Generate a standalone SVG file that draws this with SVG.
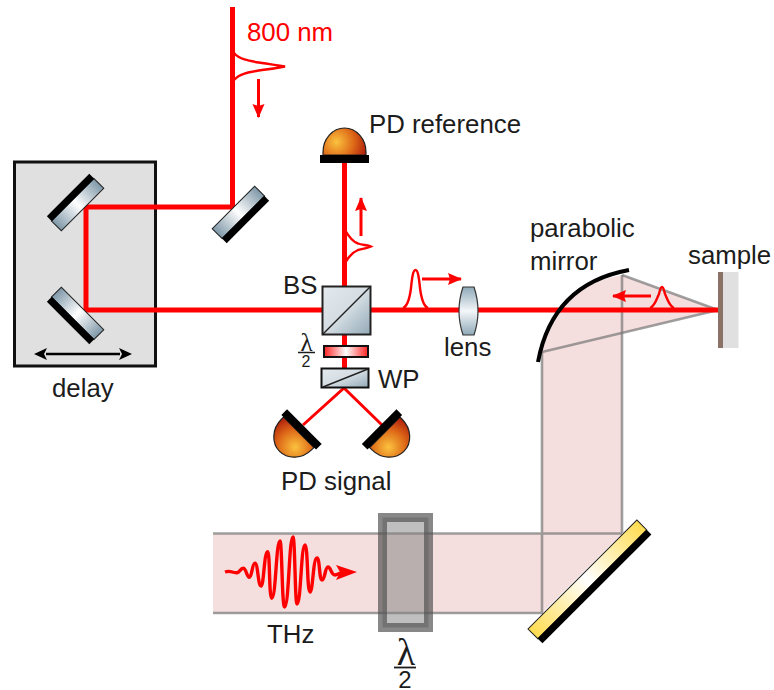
<svg xmlns="http://www.w3.org/2000/svg" width="774" height="690" viewBox="0 0 774 690">
<style>
text{font-family:"Liberation Sans",Arial,sans-serif;font-size:25.8px;fill:#1c1c1c}
.beam{fill:none;stroke:#f00;stroke-width:5}
.thin{fill:none;stroke:#f00;stroke-width:3}
.pulse{fill:none;stroke:#f00;stroke-width:2.4}
.dir{fill:none;stroke:#f00;stroke-width:3;marker-end:url(#ra)}
.edge{fill:none;stroke:#777;stroke-width:2.6;stroke-opacity:.7}
.red{fill:#f00}
.frac{stroke:#1c1c1c;fill:none}
</style>
<defs>
<linearGradient id="silver" x1="0" x2="1" y1="0" y2="0"><stop offset="0" stop-color="#7f98a8"/><stop offset=".5" stop-color="#fff"/><stop offset="1" stop-color="#7f98a8"/></linearGradient>
<linearGradient id="silverV" x1="0" x2="0" y1="0" y2="1"><stop offset="0" stop-color="#8fa9b8"/><stop offset=".5" stop-color="#f4f7f9"/><stop offset="1" stop-color="#8fa9b8"/></linearGradient>
<linearGradient id="silverD" x1="0" x2="1" y1="0" y2="1"><stop offset="0" stop-color="#e4eaee"/><stop offset=".5" stop-color="#d4dde3"/><stop offset="1" stop-color="#93a9b7"/></linearGradient>
<linearGradient id="redplate" x1="0" x2="1" y1="0" y2="0"><stop offset="0" stop-color="#f22"/><stop offset=".5" stop-color="#fff"/><stop offset="1" stop-color="#f22"/></linearGradient>
<linearGradient id="gold" x1="0" x2="1" y1="0" y2="0"><stop offset="0" stop-color="#ffdc50"/><stop offset=".5" stop-color="#fff"/><stop offset="1" stop-color="#ffdc50"/></linearGradient>
<radialGradient id="pd" gradientUnits="userSpaceOnUse" cx="-8" cy="-13" r="34"><stop offset="0" stop-color="#fbc23e"/><stop offset=".5" stop-color="#de6a18"/><stop offset="1" stop-color="#a80f08"/></radialGradient>
<g id="mirror"><rect x="-30" y="-10" width="60" height="14" fill="url(#silver)" stroke="#222" stroke-width="1"/><rect x="-30" y="3.5" width="60" height="7" fill="#000"/></g>
<g id="dome"><path d="M-21.5,0 L-21.5,-3 A21.5,24 0 0 1 21.5,-3 L21.5,0 Z" fill="url(#pd)" stroke="#222" stroke-width="1.2"/><rect x="-24.5" y="0" width="49" height="8" fill="#000"/></g>
<marker id="ra" markerUnits="userSpaceOnUse" markerWidth="16" markerHeight="14" refX="13" refY="6" orient="auto"><path d="M0,0 L14,6 L0,12 L2,6 Z" fill="#f00"/></marker>
</defs>

<g id="delay-stage"><rect x="14.500" y="162" width="141" height="204" fill="#e0e0e0" stroke="#111" stroke-width="3"/></g>
<g id="thz-beam">
<path d="M213,533.5 L542,533.5 L542,352 Q555,287 622,275 L718,310 L622,333 L622,533.5 L542,613 L213,613 Z" fill="#f5dede"/>
</g>
<g id="connectors">
<path class="edge" d="M213,533.5 H622 M213,613 H542 M542,352 V614 M622,275 V533"/>
<path class="edge" d="M622,275 L718,310 L542,352"/>
<path class="beam" d="M232.500,7 V207 H86 V310 H718"/>
<path class="beam" d="M344.500,160 V370"/>
<path class="thin" d="M303,425 L344,388 L382,425"/>
<path class="pulse" d="M234,53 C240,60 250,61 262,63 C272,64.500 280,65.500 285,66.500 C280,67.500 272,69 262,70 C250,72 240,73 234,80"/>
<path class="dir" d="M258.500,79 V117"/>
<path class="pulse" d="M345,230 C349,237 353,242 358,243.500 C362,245 368,245 371,246.500 C368,248 362,249 358,250 C353,252 349,256 345,263"/>
<path class="dir" d="M361,236 V198"/>
<path class="pulse" d="M403,308 C408,306 410,296 411,288 C412,278 413,270 415.500,270 C418,270 419,278 420,288 C421,296 423,306 428,308"/>
<path class="dir" d="M422,279 H461"/>
<path class="pulse" d="M650,308 C655,306 657,298 659,294 C660,290 660.500,287 662,287 C663.500,287 664,290 665,294 C667,298 669,306 674,308"/>
<path class="dir" d="M651,296 H613"/>
<path d="M225,572 C231,570 232,573 236.700,572.700 C240,573 240,568.300 243.300,568.300 C246,568.300 247,577.300 249.300,577.300 C252,577.300 252,563.300 255,563.300 C258,563.300 258,586 261,586 C264,586 264,551.700 267.700,551.700 C270,551.700 269,598.300 271.700,598.300 C276,598.300 276,541 280,541 C282,541 282,607 284.500,607 C289,607 289,537 293,537 C295,537 295,604 297,604 C301,604 301,545 305,545 C308,545 307,592 310,592 C313,592 313,558 317,558 C320,558 319,580 322,580 C325,580 325,567 328,567 C331,567 331,575 335,575 C338,575 340,572 345,572" fill="none" stroke="#f00" stroke-width="3.400"/>
<path class="red" d="M336,565 L357,572 L336,580 L340,572 Z"/>
<path d="M46,354 H120" stroke="#000" stroke-width="2.500" fill="none"/>
<path d="M47,348 L34,354 L47,360 L44,354 Z M119,348 L132,354 L119,360 L122,354 Z" fill="#000"/>
</g>

<g id="mirror-in"><use href="#mirror" transform="translate(240.500,214.500) rotate(-45)"/></g>
<g id="mirror-delay-top"><use href="#mirror" transform="translate(75.500,202.500) rotate(135)"/></g>
<g id="mirror-delay-bottom"><use href="#mirror" transform="translate(75.500,315.500) rotate(45)"/></g>
<g id="delay-label"><text x="52" y="397">delay</text></g>
<g id="label-800"><text x="247" y="41" style="fill:#f00">800 nm</text></g>

<g id="pd-reference"><use href="#dome" transform="translate(344.500,155)"/><text x="369" y="132.500">PD reference</text></g>
<g id="beam-splitter"><rect x="322.500" y="286.500" width="48" height="48" fill="url(#silverD)" stroke="#222" stroke-width="2"/><path d="M323,334 L370,287" stroke="#222" stroke-width="1.500"/><text x="283" y="294">BS</text></g>
<g id="half-wave-small"><rect x="324" y="346" width="44" height="11" fill="url(#redplate)" stroke="#111" stroke-width="2"/>
<text x="306.500" y="351" text-anchor="middle" style="font-family:'Liberation Serif',serif;font-size:25px">λ</text><path class="frac" d="M298,352.500 H315" stroke-width="1.500"/><text x="306" y="367" text-anchor="middle" style="font-size:16px">2</text></g>
<g id="wollaston"><rect x="321.500" y="368.500" width="47" height="19" fill="url(#silverD)" stroke="#111" stroke-width="2"/><path d="M323,387 L368,369" stroke="#222" stroke-width="1.500"/><text x="378" y="388">WP</text></g>
<g id="pd-signal"><use href="#dome" transform="translate(298.700,432.300) rotate(-135)"/><use href="#dome" transform="translate(384.800,432.300) rotate(135) scale(-1,1)"/><text x="281" y="490">PD signal</text></g>
<g id="lens"><path d="M463,287 H474 Q482,311 474,335 H463 Q455,311 463,287 Z" fill="url(#silverV)" stroke="#333" stroke-width="1.200"/><text x="444" y="356">lens</text></g>
<g id="parabolic-mirror"><path d="M538,362 Q552.500,284 629,270" fill="none" stroke="#000" stroke-width="4"/><text x="530" y="237">parabolic</text><text x="530" y="270">mirror</text></g>
<g id="sample"><rect x="723" y="272" width="15.500" height="76" fill="#e0e0e0"/><rect x="718" y="272" width="5" height="76" fill="#8a7366"/><text x="688" y="264">sample</text></g>
<g id="thz-label"><text x="267" y="643">THz</text></g>
<g id="half-wave-large"><rect x="382.500" y="517.500" width="46" height="110" fill="#808080" fill-opacity=".5" stroke="#505050" stroke-opacity=".68" stroke-width="9"/>
<text x="406" y="665" text-anchor="middle" style="font-family:'Liberation Serif',serif;font-size:38px">λ</text><path class="frac" d="M394,667.500 H416" stroke-width="1.800"/><text x="405" y="687.500" text-anchor="middle" style="font-size:24px">2</text></g>
<g id="fold-mirror"><rect x="-77" y="-10" width="154" height="14" fill="url(#gold)" stroke="#222" stroke-width="1" transform="translate(589.500,581.500) rotate(-45)"/><rect x="-77" y="3.500" width="154" height="7" fill="#000" transform="translate(589.500,581.500) rotate(-45)"/></g>
</svg>
